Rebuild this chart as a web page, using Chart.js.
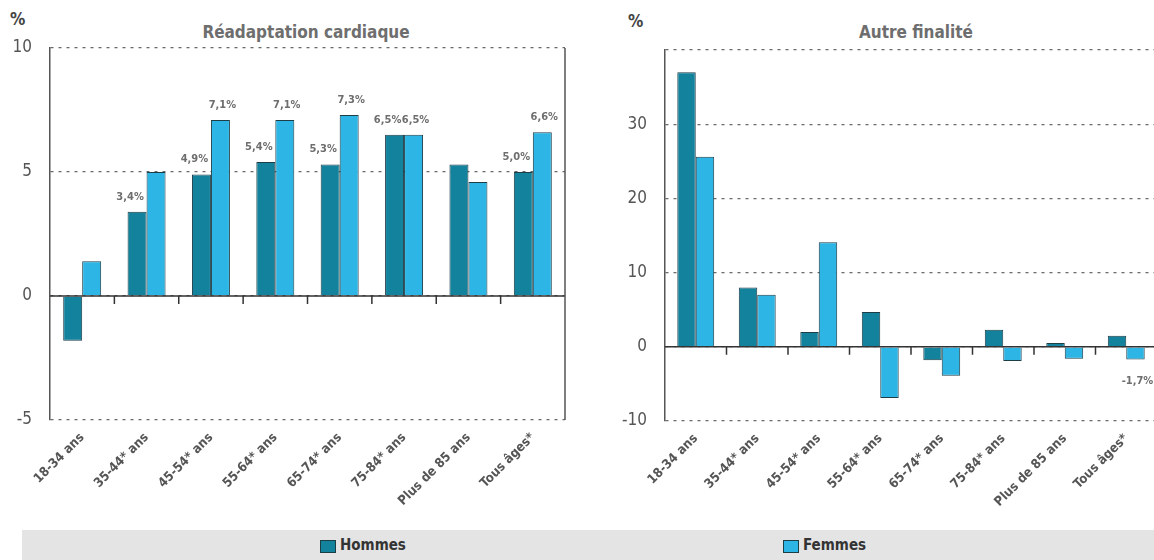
<!DOCTYPE html>
<html>
<head>
<meta charset="utf-8">
<script src="https://cdn.jsdelivr.net/npm/chart.js@4"></script>
<style>
  html, body { margin: 0; padding: 0; background: #fff; overflow: hidden; width: 1154px; height: 560px; }
  .box { position: absolute; }
  .txt { position: absolute; font-family: 'Liberation Sans Narrow', 'DejaVu Sans Condensed', sans-serif; font-weight: bold; color: #6e6e6e; white-space: nowrap; }
  .legend { position: absolute; left: 22px; top: 530px; width: 1132px; height: 30px; background: #e4e4e4; }
  .sw { position: absolute; width: 14px; height: 11px; border: 1px solid #1d3d47; }
</style>
</head>
<body>
<div class="txt" style="left:10px;top:9px;font-size:17px;color:#444;">%</div>
<div class="txt" style="left:628px;top:11px;font-size:17px;color:#444;">%</div>
<div class="txt" style="left:6px;width:600px;top:22px;font-size:17px;text-align:center;">Réadaptation cardiaque</div>
<div class="txt" style="left:616px;width:600px;top:22px;font-size:17px;text-align:center;">Autre finalité</div>

<div class="box" style="left:0;top:0;width:580px;height:530px;"><canvas id="chartLeft"></canvas></div>
<div class="box" style="left:580px;top:0;width:580px;height:530px;"><canvas id="chartRight"></canvas></div>

<div class="legend">
  <div class="sw" style="left:298px;top:10px;background:#12829d;"></div>
  <div class="txt" style="left:318px;top:6px;font-size:15px;color:#333;">Hommes</div>
  <div class="sw" style="left:761px;top:10px;background:#2cb5e5;"></div>
  <div class="txt" style="left:781px;top:6px;font-size:15px;color:#333;">Femmes</div>
</div>

<script>
const categories = ['18-34 ans', '35-44* ans', '45-54* ans', '55-64* ans', '65-74* ans', '75-84* ans', 'Plus de 85 ans', 'Tous âges*'];

// Réadaptation cardiaque (%)
const readaptHommes = [-1.8, 3.4, 4.9, 5.4, 5.3, 6.5, 5.3, 5.0];
const readaptFemmes = [1.4, 5.0, 7.1, 7.1, 7.3, 6.5, 4.6, 6.6];
const readaptHommesLabelled = [false, true, true, true, true, true, false, true];
const readaptFemmesLabelled = [false, false, true, true, true, true, false, true];

// Autre finalité (%)
const autreHommes = [37.0, 8.0, 2.0, 4.7, -1.8, 2.3, 0.5, 1.5];
const autreFemmes = [25.6, 7.0, 14.1, -6.9, -3.9, -1.9, -1.6, -1.7];
const autreHommesLabelled = [false, false, false, false, false, false, false, false];
const autreFemmesLabelled = [false, false, false, false, false, false, false, true];

const HOMMES = '#12829d';
const FEMMES = '#2cb5e5';
const EDGE = '#1d3d47';
const NARROW = "'Liberation Sans Narrow', 'DejaVu Sans Condensed', sans-serif";

function fmt(v) {
  return v.toFixed(1).replace('.', ',') + '%';
}

// zero line, category ticks, right border and value labels
const extras = {
  id: 'extras',
  afterDatasetsDraw(chart, args, opts) {
    const { ctx, chartArea } = chart;
    const x = chart.scales.x, y = chart.scales.y;
    const y0 = y.getPixelForValue(0);
    ctx.save();
    ctx.strokeStyle = '#333';
    ctx.lineWidth = 1.5;
    ctx.beginPath();
    ctx.moveTo(chartArea.left, y0);
    ctx.lineTo(chartArea.right, y0);
    for (let i = 1; i < categories.length; i++) {
      const xb = (x.getPixelForValue(i - 1) + x.getPixelForValue(i)) / 2;
      ctx.moveTo(xb, y0);
      ctx.lineTo(xb, y0 + 8);
    }
    ctx.stroke();
    if (opts.rightBorder) {
      ctx.strokeStyle = '#555';
      ctx.lineWidth = 1.5;
      ctx.beginPath();
      ctx.moveTo(chartArea.right, chartArea.top);
      ctx.lineTo(chartArea.right, chartArea.bottom);
      ctx.stroke();
    }
    ctx.font = 'bold 11px ' + NARROW;
    ctx.fillStyle = '#6e6e6e';
    ctx.textAlign = 'center';
    ctx.textBaseline = 'middle';
    chart.data.datasets.forEach((ds, di) => {
      const meta = chart.getDatasetMeta(di);
      const flags = opts.shown[di];
      meta.data.forEach((bar, i) => {
        if (!flags[i]) return;
        const v = ds.data[i];
        const dx = di === 0 ? -7 : 2;
        const ty = v >= 0 ? bar.y - 15 : bar.y + 22;
        ctx.fillText(fmt(v), bar.x + dx, ty);
      });
    });
    ctx.restore();
  }
};

function buildChart(id, hommes, femmes, shown, yMin, yMax, step, pad, yWidth, xHeight, rightBorder, catPct, hideTop) {
  const ctx = document.getElementById(id).getContext('2d');
  return new Chart(ctx, {
    type: 'bar',
    data: {
      labels: categories,
      datasets: [
        { label: 'Hommes', data: hommes, backgroundColor: HOMMES, borderColor: EDGE, borderWidth: 1 },
        { label: 'Femmes', data: femmes, backgroundColor: FEMMES, borderColor: EDGE, borderWidth: 1 },
      ],
    },
    options: {
      responsive: true,
      maintainAspectRatio: false,
      animation: false,
      layout: { padding: pad },
      datasets: { bar: { barPercentage: 1.0, categoryPercentage: catPct } },
      plugins: {
        legend: { display: false },
        tooltip: { enabled: false },
        extras: { rightBorder, shown },
      },
      scales: {
        x: {
          grid: { display: false },
          border: { display: false },
          ticks: {
            minRotation: 45, maxRotation: 45, padding: 2,
            color: '#555',
            font: { family: NARROW, size: 13, weight: 'bold' },
          },
          afterFit(scale) { scale.height = xHeight; },
        },
        y: {
          min: yMin, max: yMax,
          grid: { color: '#6a6a6a', lineWidth: 1.3, drawTicks: false },
          border: { display: true, color: '#555', width: 1.5, dash: [3, 5] },
          ticks: {
            stepSize: step, padding: 18,
            color: '#555',
            font: { family: NARROW, size: 17 },
            callback: v => (hideTop && v === yMax) ? '' : v,
          },
          afterFit(scale) { scale.width = yWidth; },
        },
      },
    },
    plugins: [extras],
  });
}

buildChart('chartLeft', readaptHommes, readaptFemmes, [readaptHommesLabelled, readaptFemmesLabelled],
  -5, 10, 5, { top: 48, right: 15, left: 0, bottom: 0 }, 50, 110, true, 0.59, false);
buildChart('chartRight', autreHommes, autreFemmes, [autreHommesLabelled, autreFemmesLabelled],
  -10, 40, 10, { top: 50, right: 3, left: 0, bottom: 0 }, 85, 109, false, 0.6, true);
</script>
</body>
</html>
